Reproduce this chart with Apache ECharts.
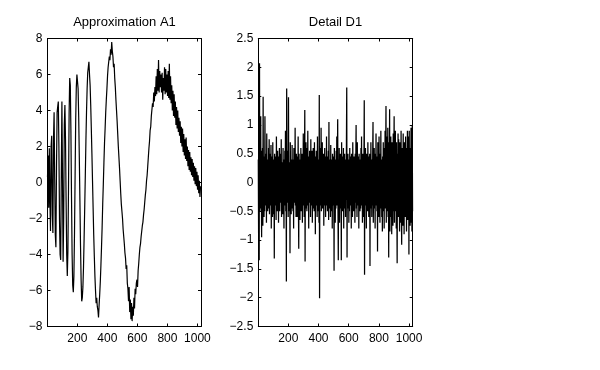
<!DOCTYPE html>
<html>
<head>
<meta charset="utf-8">
<script src="https://cdn.jsdelivr.net/npm/echarts@6/dist/echarts.min.js"></script>
<style>html,body{margin:0;padding:0;background:#fff}#c{width:600px;height:370px}</style>
</head>
<body>
<div id="c"></div>
<script>
// sample positions: x = xStart + i * step
const xStart = 1;
const a1Step = 4;
const d1Step = 2;
const xMin = 1;
const xMax = 1024;
const xTicks = [200, 400, 600, 800, 1000];
const titles = ['Approximation A1', 'Detail D1'];

// Approximation A1
const a1 = [
  0.3, 1.5, -1.4, 1.9, -1.0, -2.7, 2.0, 2.6, -1.8, -2.8, 2.4, 3.9, 0.2, -2.9, -3.6, 0.8,
  3.9, 4.2, 4.5, 2.0, -2.1, -4.0, -4.3, 0.5, 4.5, 0.2, -4.4, -1.9, 3.2, 4.3, 2.4, -1.0,
  -4.0, -5.2, -3.8, -0.3, 3.8, 5.8, 5.4, 2.9, -0.8, -4.0, -5.7, -6.1, -5.2, -2.8, 0.4, 3.5,
  5.3, 6.0, 6.1, 5.2, 3.6, 1.4, -1.0, -3.5, -5.4, -6.6, -6.4, -5.8, -4.7, -3.1, -1.4, 0.4,
  2.3, 3.9, 5.2, 6.1, 6.4, 6.7, 6.0, 5.4, 4.3, 3.0, 1.6, 0.1, -1.4, -2.9, -4.1, -5.2,
  -6.0, -6.7, -6.4, -6.9, -7.1, -7.5, -6.8, -6.2, -5.5, -4.6, -3.6, -2.5, -1.2, -0.1, 1.1, 2.2,
  3.0, 3.9, 4.6, 5.2, 5.9, 6.4, 6.3, 7.0, 6.8, 7.4, 7.1, 7.8, 7.3, 7.0, 6.4, 6.6,
  5.8, 5.3, 4.6, 4.0, 3.4, 2.7, 2.0, 1.4, 0.8, 0.1, -0.6, -1.2, -1.6, -2.0, -2.6, -3.0,
  -3.4, -3.9, -4.2, -4.8, -4.6, -5.6, -5.9, -6.6, -5.8, -7.2, -6.5, -7.6, -6.7, -7.7, -6.9, -7.4,
  -6.4, -7.0, -5.9, -6.2, -5.6, -5.4, -5.8, -4.9, -4.5, -4.0, -3.6, -3.4, -3.0, -2.9, -2.4, -2.2,
  -1.8, -1.5, -1.1, -0.7, -0.4, 0.1, 0.4, 0.9, 1.4, 1.9, 2.3, 2.9, 3.1, 3.7, 3.6, 4.4,
  4.2, 5.0, 4.5, 5.3, 4.8, 5.9, 4.9, 6.3, 5.1, 6.8, 5.0, 6.2, 5.3, 6.0, 5.0, 6.1,
  4.6, 5.8, 5.1, 6.4, 4.9, 6.3, 5.0, 6.0, 4.8, 6.2, 4.7, 6.6, 4.6, 5.9, 4.4, 5.4,
  4.0, 5.1, 3.7, 4.9, 3.6, 4.5, 3.2, 4.2, 3.0, 4.0, 2.8, 3.6, 2.6, 3.4, 2.2, 3.1,
  2.0, 3.0, 1.7, 2.7, 1.5, 2.4, 1.3, 2.5, 1.2, 2.0, 0.9, 1.8, 0.7, 1.7, 0.6, 1.4,
  0.4, 1.3, 0.3, 1.1, 0.1, 0.9, -0.1, 0.8, -0.2, 0.6, -0.4, 0.4, -0.6, 0.1, -0.8, -0.2
];

// Detail D1
const d1 = [
  0.4, -0.9, 1.1, -1.35, 2.07, -0.5, 0.75, -0.3, 1.15, -0.45, 0.2, -0.95, 0.55, -0.35, 0.6, -0.75,
  1.49, -0.3, 0.45, -0.6, 0.15, -0.5, 1.15, -0.25, 0.5, -0.4, 0.3, -0.7, 0.85, -0.1, 0.4, -0.5,
  0.25, -0.45, 0.6, -0.2, 0.75, -0.55, 0.1, -0.4, 0.5, -0.3, 0.65, -0.8, 0.35, -0.25, 0.45, -0.6,
  0.7, -0.2, 0.4, -0.55, 0.15, -1.32, 0.5, -0.35, 0.45, -0.4, 0.3, -0.65, 0.8, -0.15, 0.35, -0.5,
  0.55, -0.4, 0.2, -0.7, 0.45, -0.25, 0.6, -0.5, 0.1, -0.35, 0.5, -0.2, 0.75, -0.6, 0.3, -0.45,
  0.35, -0.55, 0.6, -0.15, 0.4, -0.8, 0.25, -0.4, 0.55, -0.3, 0.9, -0.5, 0.2, -1.72, 1.63, -0.35,
  0.45, -0.25, 0.55, -0.6, 1.48, -0.4, 0.3, -0.5, 0.35, -1.23, 0.7, -0.2, 0.4, -0.55, 0.25, -0.45,
  0.65, -0.3, 0.4, -0.5, 0.2, -0.8, 0.6, -0.35, 0.45, -0.25, 0.95, -0.4, 0.3, -0.6, 0.5, -0.2,
  0.35, -0.6, 0.45, -0.3, 0.8, -0.45, -1.15, 0.5, -0.25, 0.4, -0.65, 0.3, -0.4, 0.6, -0.5, 0.25,
  -0.35, 0.5, -0.7, 0.2, -0.4, 0.85, -0.3, 0.55, -0.6, 0.35, 1.26, -1.37, 0.4, -0.25, 0.7, -0.45,
  0.3, -0.5, 0.6, -0.2, 0.9, -0.4, 0.25, -0.8, 0.45, -0.3, 0.55, -0.35, 0.2, -0.6, 0.75, -0.4,
  0.35, -0.25, 0.55, -0.7, 0.4, -0.15, 0.6, -0.45, 0.3, -0.5, 0.7, -0.3, 0.25, -0.9, 0.45, -0.35,
  0.55, -0.4, 0.3, -0.6, 0.8, -0.25, 0.4, -0.5, 0.35, -0.7, 1.52, -2.01, 0.45, -0.3, 0.6, -0.4,
  0.95, -0.5, 0.25, -0.35, 0.7, -0.45, 0.4, -0.2, 0.5, -0.75, 0.3, -0.4, 0.6, -0.3, 0.45, -0.6,
  0.2, -0.4, 0.8, -0.3, 0.35, -0.5, 0.45, -0.25, 0.55, -0.65, 1.05, -0.35, 0.4, -0.45, 0.3, -0.6,
  0.65, -0.25, 0.4, -0.5, 0.35, -0.8, 0.5, -0.3, 0.45, -0.4, 0.25, -1.53, 0.6, -0.35, 0.4, -0.7,
  0.3, -0.45, 0.55, -0.25, 0.8, -0.4, 0.35, 1.1, -0.5, -1.35, 0.4, -0.3, 0.6, -0.7, 0.25, -0.45,
  0.5, -0.35, 0.4, -1.35, 0.7, -0.25, 0.45, -0.5, 0.3, -0.4, 0.6, -0.8, 0.35, -0.3, 0.5, -0.45,
  0.25, -0.6, 0.4, -0.3, 0.7, 1.65, -1.3, 0.35, -0.45, 0.5, -0.25, 0.4, -0.7, 0.3, -0.5, 0.6,
  -0.35, 0.45, -0.4, 0.25, -0.8, 0.5, -0.3, 0.4, -0.6, 0.7, -0.25, 0.35, -0.5, 0.45, -0.4, 0.3,
  -0.7, 0.5, -0.35, 0.4, 1.0, -0.45, 0.25, -0.6, 0.7, -0.3, 0.45, -0.4, 0.35, -0.8, 0.5, -0.25,
  0.4, -0.5, 0.3, -0.45, 0.6, -0.35, 0.8, -0.4, 0.25, -0.7, 0.5, -0.3, 0.4, -0.6, 0.35, 1.43,
  -1.6, 0.45, -0.3, 0.6, -0.4, 0.35, -0.8, 0.5, -0.25, 0.4, -0.5, 0.7, -0.35, 0.45, -0.6, 0.3,
  -0.4, 0.5, -1.45, 0.35, -0.45, 0.7, -0.3, 0.4, -0.6, 0.25, -0.4, 0.5, 1.05, -0.7, 0.35, -0.45,
  0.6, -0.3, 0.4, -0.8, 0.5, -0.35, 0.85, -0.4, 0.3, -0.5, 0.45, -1.2, 0.7, -0.25, 0.4, -0.6,
  0.8, -0.4, 0.35, -0.7, 0.5, -0.3, 0.9, -0.45, 0.4, -0.6, 0.3, -0.85, 0.45, -0.35, 0.7, -0.5,
  0.4, -0.8, 0.6, -0.3, 0.9, -0.45, 0.5, 1.33, -0.7, 0.35, -0.5, 0.8, -0.4, 0.95, -0.6, 0.45,
  -1.3, 0.7, -0.4, 1.27, -0.85, 0.5, -0.35, 0.8, -0.6, 0.4, -0.9, 0.7, -0.45, 0.6, -0.75, 0.85,
  -0.5, 0.4, 1.15, -0.7, 0.6, -0.4, 0.9, -0.5, 0.35, -0.8, 0.7, -0.45, -1.4, 0.5, -0.6, 0.85,
  -0.4, 0.75, -0.6, 0.45, -0.85, 0.7, -0.35, 0.5, -0.7, 0.9, -0.45, -1.08, 0.6, -0.5, 0.4, -0.75,
  0.85, -0.4, 0.5, -0.9, 0.7, -0.35, 0.45, -0.6, 0.8, -0.5, 0.4, -0.85, 0.6, -0.45, 0.9, -0.65,
  0.5, -0.4, 0.8, -1.25, 0.9, -0.5, 0.4, -0.75, 0.6, -0.35, 0.95, -0.7, 0.45, -0.85, 1.0, -0.5
];

const FONT = "'Liberation Sans', Arial, Helvetica, sans-serif";
const toPairs = (arr, step) => arr.map((v, i) => [xStart + i * step, v]);
const minusFmt = v => String(v).replace('-', '\u2212');

function xAx(grid, pos, labels) {
  return {
    type: 'value', gridIndex: grid, position: pos, min: xMin, max: xMax,
    axisLine: { show: true, onZero: false, lineStyle: { color: '#000', width: 1 } },
    axisTick: { show: true, inside: true, length: 3, customValues: xTicks, lineStyle: { color: '#000' } },
    axisLabel: { show: labels, customValues: xTicks, color: '#000', fontSize: 12, fontFamily: FONT, margin: 6, formatter: v => String(v) },
    splitLine: { show: false }
  };
}
function yAx(grid, pos, labels, min, max, interval) {
  return {
    type: 'value', gridIndex: grid, position: pos, min: min, max: max, interval: interval,
    axisLine: { show: true, onZero: false, lineStyle: { color: '#000', width: 1 } },
    axisTick: { show: true, inside: true, length: 3, lineStyle: { color: '#000' } },
    axisLabel: { show: labels, color: '#000', fontSize: 12, fontFamily: FONT, margin: 5, formatter: minusFmt },
    splitLine: { show: false }
  };
}

const chart = echarts.init(document.getElementById('c'), null, { renderer: 'canvas' });
chart.setOption({
  animation: false,
  backgroundColor: '#fff',
  graphic: [
    { type: 'text', x: 124.5, y: 22, style: { text: titles[0], textAlign: 'center', textVerticalAlign: 'middle', font: '13px ' + FONT, fill: '#000' } },
    { type: 'text', x: 335.5, y: 22, style: { text: titles[1], textAlign: 'center', textVerticalAlign: 'middle', font: '13px ' + FONT, fill: '#000' } }
  ],
  grid: [
    { left: 47.5, top: 38.5, width: 153.5, height: 288, show: false },
    { left: 258.3, top: 38.5, width: 154.4, height: 288, show: false }
  ],
  xAxis: [xAx(0, 'bottom', true), xAx(1, 'bottom', true), xAx(0, 'top', false), xAx(1, 'top', false)],
  yAxis: [yAx(0, 'left', true, -8, 8, 2), yAx(1, 'left', true, -2.5, 2.5, 0.5), yAx(0, 'right', false, -8, 8, 2), yAx(1, 'right', false, -2.5, 2.5, 0.5)],
  series: [
    { type: 'line', xAxisIndex: 0, yAxisIndex: 0, data: toPairs(a1, a1Step), symbol: 'none', sampling: null, lineStyle: { color: '#000', width: 1.2 }, silent: true },
    { type: 'line', xAxisIndex: 1, yAxisIndex: 1, data: toPairs(d1, d1Step), symbol: 'none', sampling: null, lineStyle: { color: '#000', width: 1.25 }, silent: true }
  ]
});
</script>
</body>
</html>
